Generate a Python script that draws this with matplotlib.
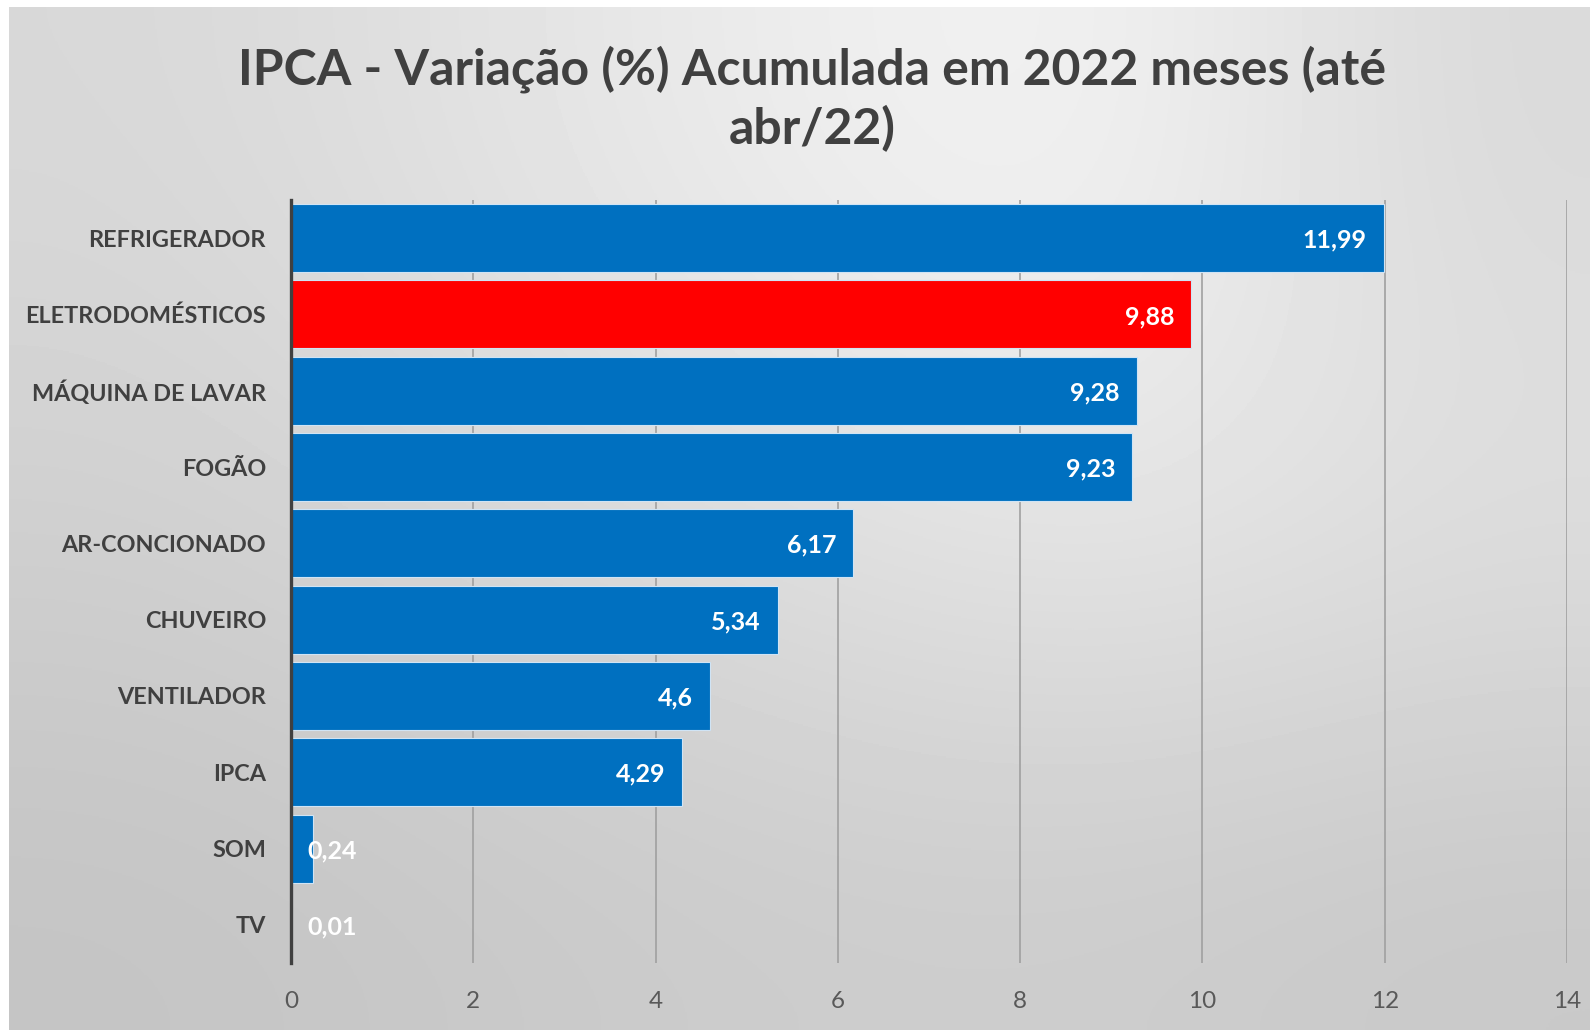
import matplotlib.pyplot as plt
import numpy as np

# data
categorias = ['REFRIGERADOR', 'ELETRODOMÉSTICOS', 'MÁQUINA DE LAVAR', 'FOGÃO',
              'AR-CONCIONADO', 'CHUVEIRO', 'VENTILADOR', 'IPCA', 'SOM', 'TV']
valores = [11.99, 9.88, 9.28, 9.23, 6.17, 5.34, 4.6, 4.29, 0.24, 0.01]
destaque = 'ELETRODOMÉSTICOS'
xticks = [0, 2, 4, 6, 8, 10, 12, 14]

titulo = 'IPCA - Variação (%) Acumulada em 2022 meses (até\nabr/22)'

plt.rcParams['font.family'] = ['Lato', 'DejaVu Sans']

fig = plt.figure(figsize=(15.9, 10.3), dpi=100)
fig.patch.set_facecolor('white')

# background gradient (gray levels)
bg = np.array([[0xd8, 0xe2, 0xee, 0xf3, 0xd9],
               [0xd0, 0xd8, 0xe0, 0xe8, 0xe0],
               [0xc4, 0xc8, 0xcc, 0xcc, 0xc8]]) / 255.0
bgax = fig.add_axes([9 / 1590, 0, 1 - 9 / 1590, 1 - 7 / 1030])
bgax.imshow(bg, cmap='gray', vmin=0, vmax=1, aspect='auto',
            interpolation='bicubic', extent=[0, 1, 0, 1])
bgax.axis('off')

ax = fig.add_axes([291 / 1590, 1 - 963 / 1030, (1567 - 291) / 1590, (963 - 200) / 1030])
ax.set_facecolor('none')

y = np.arange(len(categorias))
cores = ['#ff0000' if c == destaque else '#0070c0' for c in categorias]
ax.barh(y, valores, height=0.89, color=cores, edgecolor='#d0e4f5', linewidth=0.8, zorder=3)

for yi, v in zip(y, valores):
    txt = str(v).replace('.', ',')
    if v < 1:
        ax.annotate(txt, (0, yi), xytext=(16, -2), textcoords='offset pixels',
                    ha='left', va='center', color='white', fontsize=18,
                    fontweight='bold', zorder=4)
    else:
        ax.annotate(txt, (v, yi), xytext=(-17, -2), textcoords='offset pixels',
                    ha='right', va='center', color='white', fontsize=18,
                    fontweight='bold', zorder=4)

ax.set_xlim(0, 14)
ax.set_ylim(len(categorias) - 0.5, -0.5)
ax.set_xticks(xticks)
ax.set_xticklabels([str(t) for t in xticks])
ax.set_yticks(y)
ax.set_yticklabels(categorias, fontweight='bold', color='#404040', fontsize=16.8)
ax.tick_params(axis='x', length=0, pad=20, labelsize=17.5, labelcolor='#595959')
ax.tick_params(axis='y', length=0, pad=18)

ax.grid(axis='x', color='#a0a0a0', linewidth=1.2, zorder=0)
ax.set_axisbelow(True)
for s in ['top', 'right', 'bottom']:
    ax.spines[s].set_visible(False)
ax.spines['left'].set_color('#404040')
ax.spines['left'].set_linewidth(2.4)
ax.spines['left'].set_zorder(5)

fig.text(0.511, 0.904, titulo, ha='center', va='center', fontsize=36,
         fontweight='bold', color='#404040', linespacing=1.3)

fig.savefig('out.png', dpi=100)
